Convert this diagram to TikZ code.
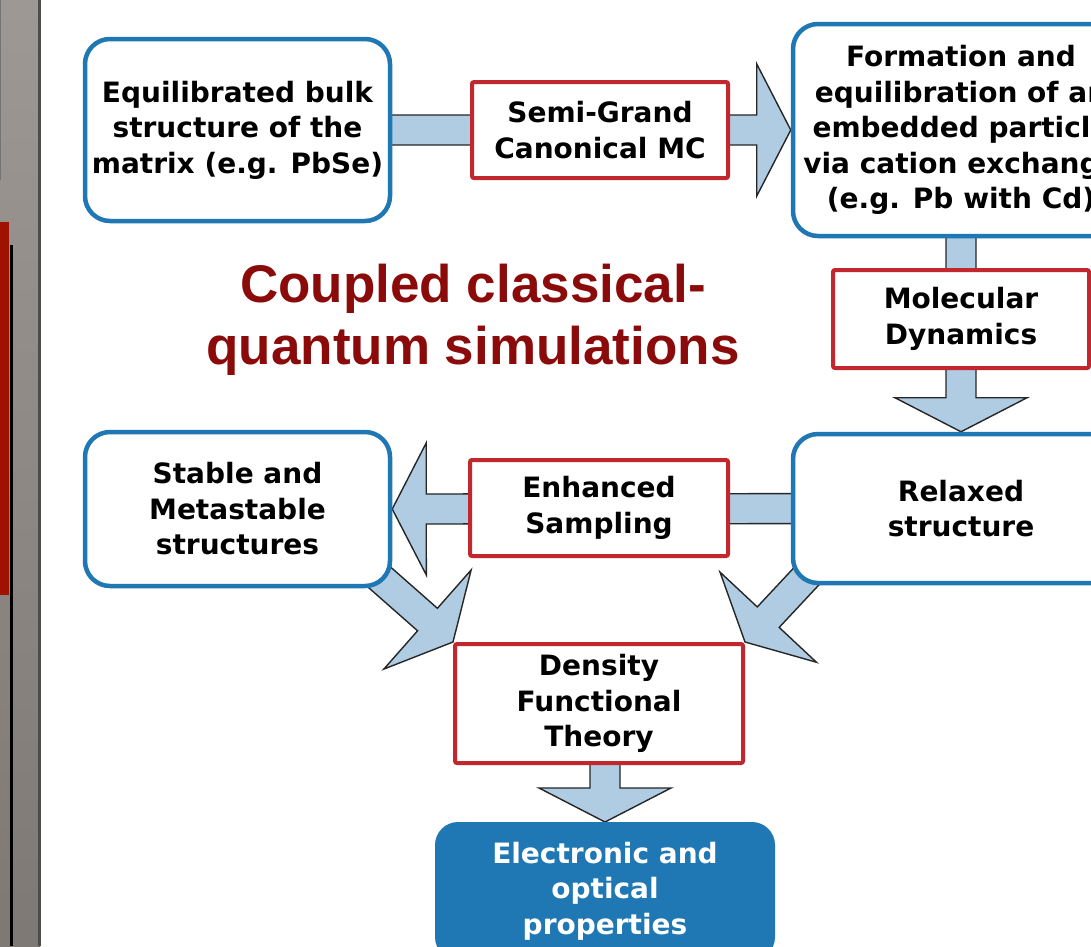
\documentclass[tikz,border=0pt]{standalone}
\usepackage{fontspec}
\setmainfont{DejaVu Sans}
\newfontfamily\titlefont{Liberation Sans}
\usetikzlibrary{calc,backgrounds}
\definecolor{boxblue}{HTML}{1F78B4}
\definecolor{boxred}{HTML}{C1272D}
\definecolor{shaftblue}{HTML}{B0CCE3}
\definecolor{titlered}{HTML}{8B0A0A}
\definecolor{barred}{HTML}{A01200}
\definecolor{bargray}{HTML}{8C8681}
\definecolor{edgegray}{HTML}{262626}

\newcommand{\stagefont}{\fontsize{28}{35.5}\selectfont\bfseries}
\tikzset{
  stepbox/.style={draw=boxblue,line width=4.5pt,rounded corners=25pt,fill=white,
    align=center,font=\stagefont,inner sep=0pt},
  methodbox/.style={draw=boxred,line width=4pt,rounded corners=2pt,fill=white,
    align=center,font=\stagefont,inner sep=0pt},
  resultbox/.style={draw=boxblue,fill=boxblue,line width=2pt,rounded corners=22pt,
    text=white,align=center,font=\stagefont,inner sep=0pt},
  fatarrow/.style={draw=edgegray,fill=shaftblue,line width=1.4pt,line join=miter},
}
% broad arrow from #1 to tip #2, shaft behind the boxes
\newcommand{\blockarrow}[2]{%
  \coordinate (headbase) at ($(#2)!34pt!(#1)$);
  \draw[fatarrow] ($(#1)!15pt!90:(#2)$) -- ($(headbase)!15pt!90:(#2)$)
    -- ($(headbase)!66pt!90:(#2)$) -- (#2) -- ($(headbase)!66pt!-90:(#2)$)
    -- ($(headbase)!15pt!-90:(#2)$) -- ($(#1)!15pt!-90:(#2)$) -- cycle;
}

\begin{document}
\begin{tikzpicture}[x=1pt,y=-1pt]
  \useasboundingbox (0,0) rectangle (1091,946);
  \clip (0,0) rectangle (1091,946);

  % slide margin on the left
  \begin{pgfonlayer}{background}
    \fill[white] (0,0) rectangle (1091,946);
    \shade[top color=bargray!85!white,bottom color=bargray!90!black] (0,0) rectangle (40,946);
    \fill[black!70] (38,0) rectangle (41,946);
    \draw[black!55,line width=1pt] (0.5,0) -- (0.5,180);
    \fill[barred] (0,222) rectangle (9,595);
    \fill[black] (10,245) rectangle (12.5,946);
  \end{pgfonlayer}

  \node[stepbox,minimum width=305,minimum height=182] (bulk) at (237.5,130)
    {Equilibrated bulk\\structure of the\\matrix (e.g. PbSe)};
  \node[methodbox,minimum width=256,minimum height=96] (sgcmc) at (600,130)
    {Semi-Grand\\Canonical MC};
  \node[stepbox,minimum width=336,minimum height=212] (embed) at (961,130)
    {Formation and\\equilibration of an\\embedded particle\\via cation exchange\\(e.g. Pb with Cd)};
  \node[methodbox,minimum width=256,minimum height=98] (md) at (961,319)
    {Molecular\\Dynamics};
  \node[stepbox,minimum width=336,minimum height=149] (relaxed) at (961,508.5)
    {Relaxed\\structure};
  \node[methodbox,minimum width=258,minimum height=96] (sampling) at (599,508)
    {Enhanced\\Sampling};
  \node[stepbox,minimum width=305,minimum height=154] (stable) at (237.5,509)
    {Stable and\\Metastable\\structures};
  \node[methodbox,minimum width=288,minimum height=119] (dft) at (599,703.5)
    {Density\\Functional\\Theory};
  \node[resultbox,minimum width=338,minimum height=136] (props) at (605,891)
    {Electronic and\\optical\\properties};

  \node[font=\titlefont\bfseries\fontsize{53}{62}\selectfont,text=titlered,align=center]
    (title) at (473,320) {Coupled classical-\\quantum simulations};

  \coordinate (stableout) at ($(stable.south east)+(-40,-35)$);
  \coordinate (relaxedout) at ($(relaxed.south west)+(40,-35)$);
  \coordinate (dftout) at (dft.center -| props.north);

  \begin{pgfonlayer}{background}
    \blockarrow{bulk.center}{embed.west}
    \blockarrow{embed.center}{relaxed.north}
    \blockarrow{relaxed.center}{stable.east}
    \blockarrow{stableout}{dft.north west}
    \blockarrow{relaxedout}{dft.north east}
    \blockarrow{dftout}{props.north}
  \end{pgfonlayer}
\end{tikzpicture}
\end{document}
